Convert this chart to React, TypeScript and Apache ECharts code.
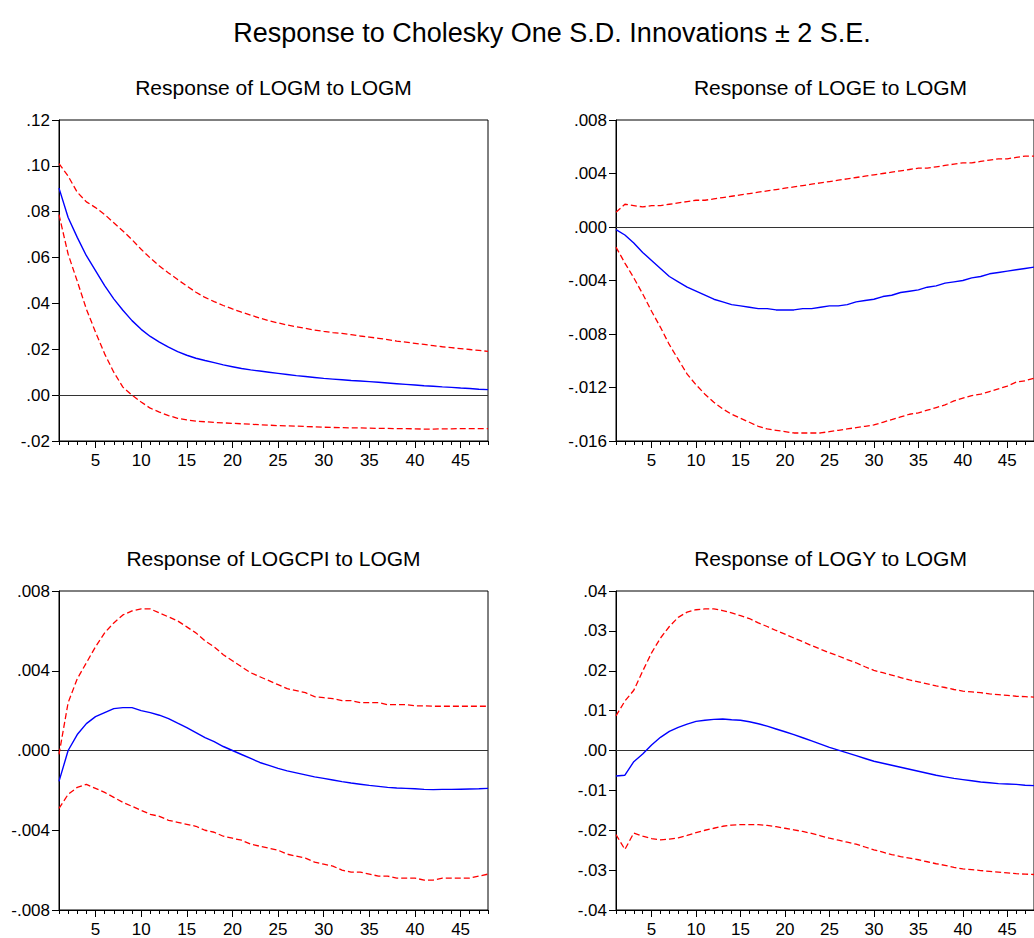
import React, { useEffect, useRef } from "react";
import * as echarts from "echarts";

// Horizon (periods after the shock)
const periods = Array.from({ length: 48 }, (_, i) => String(i + 1));

// Response of LOGM to LOGM
const logmResp = [.0903, .0775, .0688, .0608, .0543, .0478, .0420, .0370, .0325, .0287, .0256, .0231, .0209, .0190, .0174, .0161, .0151, .0142, .0132, .0124, .0116, .0110, .0105, .0100, .0095, .0090, .0085, .0081, .0077, .0073, .0070, .0067, .0064, .0062, .0059, .0056, .0053, .0050, .0047, .0044, .0041, .0039, .0036, .0034, .0031, .0029, .0026, .0024];
const logmUpper = [.1010, .0955, .0885, .0843, .0818, .0788, .0752, .0716, .0678, .0636, .0598, .0563, .0533, .0504, .0476, .0449, .0426, .0408, .0391, .0376, .0362, .0349, .0336, .0324, .0315, .0306, .0298, .0291, .0284, .0278, .0273, .0269, .0264, .0258, .0253, .0248, .0242, .0236, .0231, .0226, .0221, .0216, .0211, .0207, .0203, .0199, .0195, .0191];
const logmLower = [.0787, .0615, .0497, .0375, .0275, .0180, .0100, .0035, .0000, -.0030, -.0057, -.0074, -.0089, -.0101, -.0108, -.0113, -.0116, -.0119, -.0121, -.0123, -.0125, -.0127, -.0129, -.0131, -.0133, -.0134, -.0135, -.0137, -.0138, -.0140, -.0141, -.0142, -.0143, -.0143, -.0144, -.0145, -.0145, -.0146, -.0146, -.0147, -.0148, -.0148, -.0147, -.0147, -.0146, -.0146, -.0146, -.0146];

// Response of LOGE to LOGM
const logeResp = [-.0002, -.0006, -.0012, -.0019, -.0025, -.0031, -.0037, -.0041, -.0045, -.0048, -.0051, -.0054, -.0056, -.0058, -.0059, -.0060, -.0061, -.0061, -.0062, -.0062, -.0062, -.0061, -.0061, -.0060, -.0059, -.0059, -.0058, -.0056, -.0055, -.0054, -.0052, -.0051, -.0049, -.0048, -.0047, -.0045, -.0044, -.0042, -.0041, -.0040, -.0038, -.0037, -.0035, -.0034, -.0033, -.0032, -.0031, -.0030];
const logeUpper = [.0011, .0017, .0016, .0015, .0016, .0016, .0017, .0018, .0019, .0020, .0020, .0021, .0022, .0023, .0024, .0025, .0026, .0027, .0028, .0029, .0030, .0031, .0032, .0033, .0034, .0035, .0036, .0037, .0038, .0039, .0040, .0041, .0042, .0043, .0044, .0044, .0045, .0046, .0047, .0048, .0048, .0049, .0050, .0051, .0051, .0052, .0053, .0053];
const logeLower = [-.0015, -.0027, -.0038, -.0050, -.0063, -.0075, -.0088, -.0099, -.0110, -.0118, -.0125, -.0131, -.0136, -.0140, -.0143, -.0146, -.0149, -.0151, -.0152, -.0153, -.0154, -.0154, -.0154, -.0154, -.0153, -.0152, -.0151, -.0150, -.0149, -.0148, -.0146, -.0144, -.0142, -.0140, -.0139, -.0137, -.0135, -.0133, -.0130, -.0128, -.0126, -.0125, -.0123, -.0121, -.0119, -.0116, -.0115, -.0113];

// Response of LOGCPI to LOGM
const logcpiResp = [-.00155, .0000, .0008, .00135, .0017, .0019, .0021, .00215, .00215, .0020, .0019, .00177, .0016, .00137, .00115, .0009, .00065, .00045, .0002, .0000, -.0002, -.0004, -.0006, -.00075, -.0009, -.00102, -.00112, -.00122, -.00132, -.0014, -.00148, -.00156, -.00163, -.00169, -.00175, -.0018, -.00185, -.00188, -.0019, -.00192, -.00195, -.00196, -.00195, -.00195, -.00194, -.00193, -.00192, -.0019];
const logcpiUpper = [-.0002, .0024, .0036, .0044, .0052, .0059, .0064, .0068, .0070, .0071, .0071, .0069, .0067, .0065, .0062, .0059, .0055, .0052, .0048, .0045, .0042, .0039, .0037, .0035, .0033, .0031, .0030, .0029, .0027, .00265, .0026, .0025, .0025, .0024, .0024, .0024, .0023, .0023, .0023, .00224, .00224, .00222, .00222, .00222, .00222, .00222, .00222, .00222];
const logcpiLower = [-.0029, -.0022, -.00185, -.0017, -.0019, -.0021, -.00235, -.0026, -.0028, -.0030, -.0032, -.0033, -.0035, -.0036, -.0037, -.0038, -.0040, -.0041, -.0043, -.0044, -.0045, -.0047, -.0048, -.0049, -.0050, -.0052, -.0053, -.0054, -.0056, -.0057, -.0058, -.0060, -.0061, -.0061, -.0062, -.0063, -.0063, -.0064, -.0064, -.0064, -.0065, -.0065, -.0064, -.0064, -.0064, -.0064, -.0063, -.0062];

// Response of LOGY to LOGM
const logyResp = [-.0064, -.0062, -.0028, -.0009, .0014, .0033, .0048, .0058, .0066, .0073, .0076, .0078, .0079, .0077, .0076, .0072, .0067, .0061, .0054, .0047, .0040, .0032, .0024, .0016, .0008, .0001, -.0006, -.0013, -.0020, -.0027, -.0032, -.0037, -.0042, -.0047, -.0052, -.0057, -.0062, -.0066, -.0070, -.0073, -.0076, -.0079, -.0081, -.0083, -.0084, -.0085, -.0087, -.0088];
const logyUpper = [.0087, .0124, .0151, .0199, .0245, .0282, .0311, .0334, .0347, .0353, .0355, .0355, .0351, .0345, .0338, .0331, .0320, .0311, .0301, .0292, .0282, .0273, .0263, .0254, .0245, .0237, .0228, .0220, .0210, .0201, .0195, .0189, .0183, .0177, .0172, .0167, .0162, .0158, .0153, .0149, .0147, .0145, .0142, .0140, .0138, .0136, .0135, .0134];
const logyLower = [-.0211, -.0248, -.0207, -.0215, -.0221, -.0224, -.0222, -.0219, -.0213, -.0206, -.0200, -.0195, -.0190, -.0187, -.0186, -.0186, -.0186, -.0188, -.0191, -.0195, -.0199, -.0203, -.0208, -.0214, -.0220, -.0225, -.0230, -.0235, -.0242, -.0249, -.0255, -.0261, -.0266, -.0270, -.0274, -.0279, -.0284, -.0288, -.0293, -.0297, -.0299, -.0301, -.0303, -.0305, -.0307, -.0309, -.0310, -.0311];

const FONT = "'Liberation Sans', Arial, Helvetica, sans-serif";

const panels = [
  { title: "Response of LOGM to LOGM", left: 59, top: 120, height: 321, min: -0.02, max: 0.12, step: 0.02, dec: 2, resp: logmResp, up: logmUpper, lo: logmLower },
  { title: "Response of LOGE to LOGM", left: 616, top: 120, height: 321, min: -0.016, max: 0.008, step: 0.004, dec: 3, resp: logeResp, up: logeUpper, lo: logeLower },
  { title: "Response of LOGCPI to LOGM", left: 59, top: 591, height: 321, min: -0.008, max: 0.008, step: 0.004, dec: 3, resp: logcpiResp, up: logcpiUpper, lo: logcpiLower },
  { title: "Response of LOGY to LOGM", left: 616, top: 591, height: 321, min: -0.04, max: 0.04, step: 0.01, dec: 2, resp: logyResp, up: logyUpper, lo: logyLower },
];

const PLOT_W = 429;

function tickText(v: number, dec: number): string {
  const s = Math.abs(v).toFixed(dec).replace(/^0/, "");
  return (v < -1e-12 ? "-" : "") + s;
}

export default function App() {
  const ref = useRef<HTMLDivElement>(null);

  useEffect(() => {
    if (!ref.current) return;
    const chart = echarts.init(ref.current, null, { renderer: "svg" });

    const titles: any[] = [
      {
        text: "Response to Cholesky One S.D. Innovations \u00b1 2 S.E.",
        left: 552,
        top: 19,
        textAlign: "center",
        padding: 0,
        textStyle: { fontSize: 27, fontWeight: "normal", color: "#000", fontFamily: FONT },
      },
    ];
    const grids: any[] = [];
    const xAxes: any[] = [];
    const yAxes: any[] = [];
    const series: any[] = [];

    panels.forEach((p, i) => {
      titles.push({
        text: p.title,
        left: p.left + PLOT_W / 2,
        top: p.top - 43,
        textAlign: "center",
        padding: 0,
        textStyle: { fontSize: 21, fontWeight: "normal", color: "#000", fontFamily: FONT },
      });
      grids.push({
        left: p.left,
        top: p.top,
        width: PLOT_W,
        height: p.height,
        show: true,
        borderColor: "#000",
        borderWidth: 1,
        backgroundColor: "transparent",
      });
      // minor ticks every period, labels every 5
      xAxes.push({
        type: "category",
        gridIndex: i,
        data: periods,
        boundaryGap: false,
        position: "bottom",
        axisLine: { show: true, onZero: false, lineStyle: { color: "#000", width: 1 } },
        axisTick: { show: true, interval: 0, length: 4, lineStyle: { color: "#000" } },
        axisLabel: {
          interval: (idx: number) => (idx + 1) % 5 === 0,
          margin: 11,
          color: "#000",
          fontSize: 17,
          fontFamily: FONT,
        },
        splitLine: { show: false },
      });
      // longer ticks at every fifth period
      xAxes.push({
        type: "category",
        gridIndex: i,
        data: periods,
        boundaryGap: false,
        position: "bottom",
        axisLine: { show: false, onZero: false },
        axisTick: { show: true, interval: (idx: number) => (idx + 1) % 5 === 0, length: 7, lineStyle: { color: "#000" } },
        axisLabel: { show: false },
        splitLine: { show: false },
      });
      yAxes.push({
        type: "value",
        gridIndex: i,
        min: p.min,
        max: p.max,
        interval: p.step,
        axisLine: { show: true, onZero: false, lineStyle: { color: "#000", width: 1 } },
        axisTick: { show: true, length: 7, lineStyle: { color: "#000" } },
        axisLabel: {
          margin: 9,
          color: "#000",
          fontSize: 17,
          fontFamily: FONT,
          formatter: (v: number) => tickText(v, p.dec),
        },
        splitLine: { show: false },
      });
      const base = { type: "line", xAxisIndex: 2 * i, yAxisIndex: i, symbol: "none", showSymbol: false, silent: true };
      series.push({
        ...base,
        name: "upper",
        data: p.up,
        lineStyle: { color: "#ff0000", width: 1.3, type: [6, 3] },
        z: 3,
      });
      series.push({
        ...base,
        name: "lower",
        data: p.lo,
        lineStyle: { color: "#ff0000", width: 1.3, type: [6, 3] },
        z: 3,
      });
      series.push({
        ...base,
        name: "response",
        data: p.resp,
        lineStyle: { color: "#0000ff", width: 1.4, type: "solid" },
        z: 4,
        markLine: {
          silent: true,
          symbol: ["none", "none"],
          label: { show: false },
          lineStyle: { color: "#333", width: 1, type: "solid" },
          data: [{ yAxis: 0 }],
          z: 2,
        },
      });
    });

    chart.setOption({
      animation: false,
      backgroundColor: "#fff",
      textStyle: { fontFamily: FONT },
      title: titles,
      grid: grids,
      xAxis: xAxes,
      yAxis: yAxes,
      series,
    });

    return () => chart.dispose();
  }, []);

  return (
    <div
      ref={ref}
      style={{ position: "fixed", left: 0, top: 0, width: 1034, height: 938, background: "#fff" }}
    />
  );
}
